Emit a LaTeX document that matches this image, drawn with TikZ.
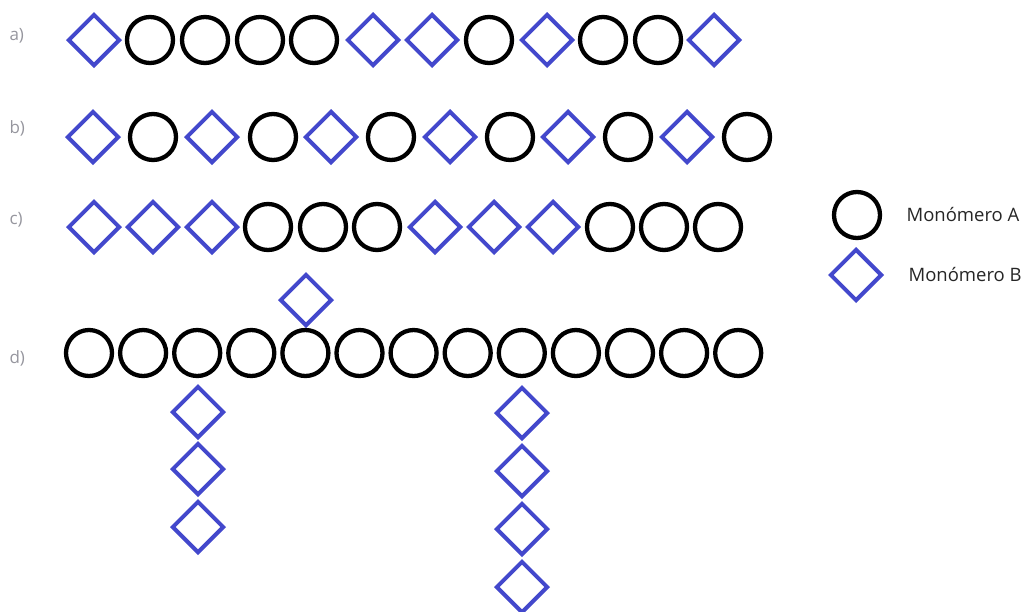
\documentclass[tikz,border=0pt]{standalone}
\usepackage{fontspec}
\setmainfont{Open Sans}
\usepackage{xcolor}
\usetikzlibrary{shapes.geometric}
\definecolor{monoblue}{RGB}{67,72,204}
\definecolor{labgray}{RGB}{150,150,158}

\begin{document}
\begin{tikzpicture}[
    x=1pt, y=-1pt,
    monoA/.style={circle, draw=black, line width=4.3pt, minimum size=46pt, inner sep=0pt},
    monoB/.style={diamond, aspect=1, draw=monoblue, line width=4pt, minimum size=52pt, inner sep=0pt},
    rowlab/.style={anchor=west, text=labgray, font=\fontsize{17}{19}\selectfont},
    leg/.style={anchor=west, text=black!85, font=\fontsize{18.5}{21}\selectfont}]
    \useasboundingbox (0,0) rectangle (1027,611);
    % a) alternating blocks
    \node[rowlab] (la) at (6,36) {a)};
    \foreach \x/\s [count=\i] in {94/monoB, 150/monoA, 205/monoA, 260/monoA, 314/monoA, 373/monoB,
        432/monoB, 489/monoA, 547/monoB, 603/monoA, 658/monoA, 714/monoB}
      \node[\s] (a\i) at (\x,40) {};
    % b) alternating
    \node[rowlab] (lb) at (6,128) {b)};
    \foreach \x/\s [count=\i] in {93/monoB, 153/monoA, 212/monoB, 273/monoA, 331/monoB, 391/monoA,
        450/monoB, 510/monoA, 568/monoB, 628/monoA, 687/monoB, 747/monoA}
      \node[\s] (b\i) at (\x,137) {};
    % c) block
    \node[rowlab] (lc) at (6,220) {c)};
    \foreach \x/\s [count=\i] in {94/monoB, 153/monoB, 212/monoB, 268/monoA, 323/monoA, 377/monoA,
        435/monoB, 494/monoB, 553/monoB, 610/monoA, 664/monoA, 718/monoA}
      \node[\s] (c\i) at (\x,227) {};
    % d) grafted
    \node[rowlab] (ld) at (6,358) {d)};
    \foreach \i in {1,...,13}
      \node[monoA] (d\i) at ({89+54.1*(\i-1)},353) {};
    \node[monoB] (g0) at (306,300) {};
    \foreach \y [count=\i] in {412,469,527}
      \node[monoB] (gl\i) at (198,\y) {};
    \foreach \y [count=\i] in {413,471,529,587}
      \node[monoB] (gr\i) at (522,\y) {};
    % legend
    \node[leg] (tA) at (903,214) {Monómero A};
    \node[leg] (tB) at (905,274) {Monómero B};
    \node[monoA] (kA) at (857,215) {};
    \node[monoB] (kB) at (856,275) {};
  \end{tikzpicture}
\end{document}
